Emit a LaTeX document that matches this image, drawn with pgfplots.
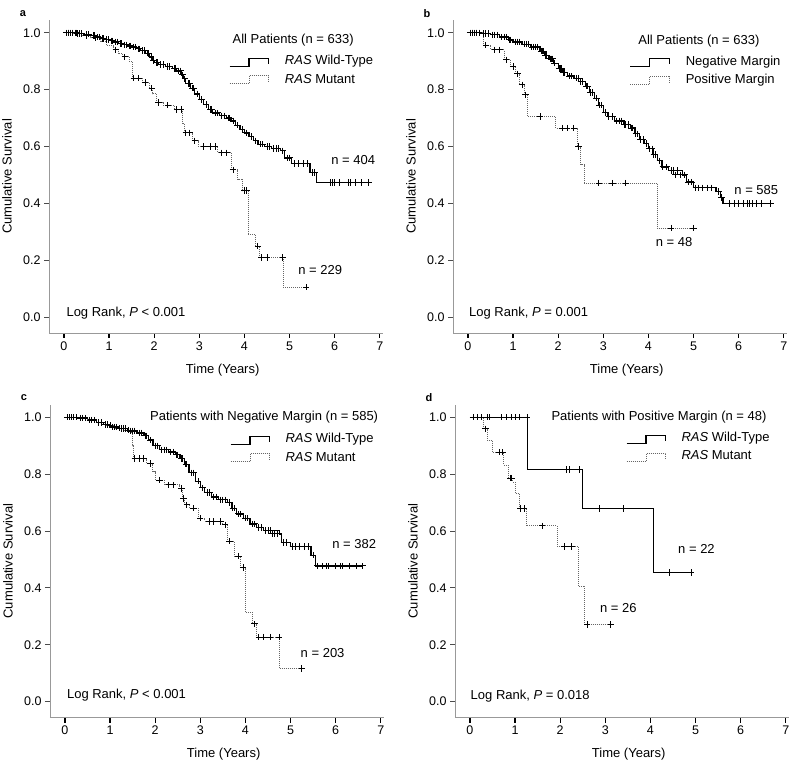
\documentclass[border=0pt]{standalone}
\usepackage{fontspec}
\setmainfont{Liberation Sans}
\usepackage{pgfplots}
\pgfplotsset{compat=1.18}

\newcommand{\tf}{\fontsize{13}{15}\selectfont}
\pgfplotsset{
  km/.style={
    scale only axis, width=334pt, height=313pt,
    xmin=-0.33, xmax=7.07, ymin=-0.056, ymax=1.045,
    axis x line*=bottom, axis y line*=left,
    axis line style={draw=black!40, line width=0.9pt, -},
    xtick={0,1,...,7}, ytick={0,0.2,0.4,0.6,0.8,1.0},
    y tick label style={/pgf/number format/.cd, fixed, fixed zerofill, precision=1, /tikz/.cd},
    /pgf/number format/assume math mode=true,
    tick align=outside, major tick length=5pt,
    x tick style={draw=black, line width=1.3pt},
    y tick style={draw=black!70, line width=0.8pt},
    tick label style={font=\fontsize{12.5}{14}\selectfont},
    xlabel={Time (Years)}, ylabel={Cumulative Survival},
    every axis x label/.style={at={(axis description cs:0.52,-0.118)}, anchor=center, font=\tf},
    every axis y label/.style={at={(axis description cs:-0.126,0.5)}, rotate=90, anchor=center, font=\tf},
    clip=false,
  },
  wt/.style={black, line width=1.3pt, const plot, mark=none},
  mu/.style={black!60, densely dotted, line width=1pt, const plot, mark=none},
  cens/.style={only marks, mark=+, mark size=3.2pt, black, line width=1pt},
}
\newcommand{\panel}[1]{\node[font=\bfseries\fontsize{11}{13}\selectfont] at (axis description cs:-0.078,1.022) {#1};}
\newcommand{\samp}[2]{\draw[#1] #2 -- ++(19.5pt,0pt) -- ++(0pt,8pt) -- ++(19.5pt,0pt) -- ++(0pt,-6pt);}

\begin{document}
\begin{tikzpicture}
\useasboundingbox (0,0) rectangle (800pt,764pt);

% ---- a
\begin{axis}[km, at={(49pt,431pt)}, anchor=south west]
\addplot[wt] coordinates {(0,1) (0.3,0.998) (0.45,0.995) (0.6,0.99) (0.7,0.985) (0.8,0.98) (0.9,0.976) (1.0,0.972) (1.1,0.968) (1.2,0.963) (1.3,0.958) (1.4,0.954) (1.5,0.95) (1.6,0.944) (1.7,0.937) (1.8,0.928) (1.9,0.915) (1.95,0.903) (2.0,0.895) (2.1,0.888) (2.25,0.882) (2.4,0.875) (2.5,0.866) (2.6,0.852) (2.65,0.838) (2.7,0.822) (2.8,0.805) (2.9,0.785) (3.0,0.765) (3.1,0.748) (3.2,0.73) (3.3,0.718) (3.45,0.708) (3.6,0.7) (3.7,0.69) (3.8,0.675) (3.9,0.66) (4.0,0.648) (4.1,0.635) (4.2,0.62) (4.3,0.608) (4.45,0.6) (4.6,0.593) (4.8,0.585) (4.88,0.56) (5.05,0.54) (5.45,0.508) (5.6,0.474) (6.75,0.474)};
\addplot[cens] coordinates {(0.05,1) (0.1,1) (0.15,1) (0.2,1) (0.25,1) (0.35,0.998) (0.5,0.995) (0.65,0.99) (0.75,0.985) (0.85,0.98) (0.95,0.976) (1.05,0.972) (1.15,0.968) (1.25,0.963) (1.35,0.958) (1.45,0.954) (1.55,0.95) (1.65,0.944) (1.75,0.937) (1.85,0.928) (2.05,0.895) (2.15,0.888) (2.3,0.882) (2.45,0.875) (2.55,0.866) (2.75,0.822) (2.85,0.805) (3.05,0.765) (3.25,0.73) (3.4,0.718) (3.5,0.708) (3.65,0.7) (3.75,0.69) (3.85,0.675) (4.05,0.648) (4.25,0.62) (4.4,0.608) (4.5,0.6) (4.7,0.593) (4.85,0.585) (5.0,0.56) (5.2,0.54) (5.3,0.54) (5.4,0.54) (5.5,0.508) (5.9,0.474) (5.95,0.474) (6.1,0.474) (6.3,0.474) (6.35,0.474) (6.6,0.474) (6.75,0.474)
 (0.28,1) (0.4,0.998) (0.55,0.995) (0.68,0.99) (0.78,0.985) (0.88,0.98) (0.98,0.976) (1.08,0.972) (1.18,0.968) (1.28,0.963) (1.38,0.958) (1.48,0.954) (1.58,0.95) (1.68,0.944) (1.78,0.937) (1.88,0.928) (1.93,0.915) (1.98,0.903) (2.08,0.895) (2.2,0.888) (2.35,0.882) (2.48,0.875) (2.58,0.866) (2.63,0.852) (2.68,0.838) (2.78,0.822) (2.88,0.805) (2.95,0.785) (3.15,0.748) (3.28,0.73) (3.35,0.718) (3.55,0.708) (3.68,0.7) (3.95,0.66) (4.15,0.635) (4.35,0.608) (4.55,0.6) (4.65,0.593) (4.75,0.593) (4.95,0.56) (5.1,0.54) (5.55,0.508) (6.0,0.474) (6.45,0.474)};
\addplot[mu] coordinates {(0,1) (0.2,0.997) (0.4,0.99) (0.6,0.982) (0.8,0.97) (0.95,0.955) (1.1,0.94) (1.2,0.928) (1.3,0.915) (1.45,0.9) (1.52,0.84) (1.75,0.825) (1.9,0.805) (1.97,0.785) (2.05,0.755) (2.2,0.745) (2.45,0.73) (2.62,0.68) (2.68,0.648) (2.85,0.62) (2.98,0.6) (3.4,0.578) (3.72,0.518) (3.85,0.485) (3.95,0.445) (4.08,0.29) (4.25,0.25) (4.33,0.21) (4.86,0.105) (5.37,0.105)};
\addplot[cens] coordinates {(0.1,1) (0.3,0.997) (0.5,0.99) (0.7,0.982) (1.15,0.94) (1.35,0.915) (1.55,0.84) (1.65,0.84) (1.8,0.825) (1.95,0.805) (2.1,0.755) (2.3,0.745) (2.5,0.73) (2.6,0.73) (2.7,0.648) (2.78,0.648) (2.9,0.62) (3.1,0.6) (3.25,0.6) (3.35,0.6) (3.5,0.578) (3.6,0.578) (3.75,0.518) (4.0,0.445) (4.05,0.445) (4.3,0.25) (4.38,0.21) (4.5,0.21) (4.85,0.21) (5.37,0.105)};
\panel{a}
\node[font=\tf, anchor=west] at (axis cs:3.66,0.973) {All Patients (n = 633)};
\samp{black, line width=1.1pt}{(axis cs:3.67,0.882)}
\samp{black!60, densely dotted, line width=1pt}{(axis cs:3.67,0.821)}
\node[font=\tf, anchor=west] at (axis cs:4.82,0.9) {\textit{RAS} Wild-Type};
\node[font=\tf, anchor=west] at (axis cs:4.82,0.838) {\textit{RAS} Mutant};
\node[font=\tf] at (axis cs:6.41,0.552) {n = 404};
\node[font=\tf] at (axis cs:5.68,0.165) {n = 229};
\node[font=\tf, anchor=west] at (axis cs:-0.02,0.014) {Log Rank, \textit{P} < 0.001};
\end{axis}

% ---- b
\begin{axis}[km, at={(453pt,431pt)}, anchor=south west]
\addplot[wt] coordinates {(0,1) (0.3,0.998) (0.5,0.993) (0.7,0.985) (0.9,0.975) (1.0,0.968) (1.2,0.96) (1.4,0.95) (1.6,0.935) (1.7,0.92) (1.8,0.908) (1.9,0.893) (2.0,0.875) (2.1,0.86) (2.2,0.848) (2.35,0.84) (2.5,0.828) (2.6,0.812) (2.7,0.79) (2.8,0.77) (2.9,0.745) (3.0,0.72) (3.1,0.705) (3.25,0.69) (3.45,0.678) (3.6,0.665) (3.7,0.645) (3.8,0.625) (3.9,0.61) (4.0,0.592) (4.1,0.572) (4.2,0.55) (4.3,0.528) (4.45,0.515) (4.75,0.5) (4.85,0.475) (5.0,0.455) (5.5,0.442) (5.6,0.42) (5.65,0.4) (6.75,0.4)};
\addplot[cens] coordinates {(0.05,1) (0.1,1) (0.15,1) (0.2,1) (0.25,1) (0.4,0.998) (0.6,0.993) (0.8,0.985) (0.95,0.975) (1.1,0.968) (1.3,0.96) (1.45,0.95) (1.55,0.95) (1.65,0.935) (1.75,0.92) (1.85,0.908) (2.05,0.875) (2.15,0.86) (2.25,0.848) (2.4,0.84) (2.45,0.84) (2.55,0.828) (2.65,0.812) (2.75,0.79) (2.95,0.745) (3.05,0.72) (3.2,0.705) (3.35,0.69) (3.5,0.678) (3.55,0.678) (3.65,0.665) (3.75,0.645) (3.95,0.61) (4.15,0.572) (4.25,0.55) (4.5,0.515) (4.6,0.5) (4.7,0.5) (4.8,0.5) (4.95,0.475) (5.1,0.455) (5.3,0.455) (5.4,0.455) (5.9,0.4) (6.0,0.4) (6.1,0.4) (6.25,0.4) (6.3,0.4) (6.5,0.4) (6.7,0.4)
 (0.35,0.998) (0.45,0.998) (0.55,0.993) (0.65,0.993) (0.75,0.985) (0.85,0.985) (0.92,0.975) (1.05,0.968) (1.15,0.968) (1.25,0.96) (1.35,0.96) (1.42,0.95) (1.5,0.95) (1.62,0.935) (1.68,0.935) (1.72,0.92) (1.82,0.908) (1.88,0.908) (1.92,0.893) (2.02,0.875) (2.08,0.875) (2.12,0.86) (2.3,0.848) (2.5,0.828) (2.62,0.812) (2.72,0.79) (2.85,0.77) (2.92,0.745) (3.12,0.705) (3.3,0.69) (3.4,0.69) (3.47,0.678) (3.62,0.665) (3.72,0.645) (3.82,0.625) (3.88,0.625) (4.02,0.592) (4.08,0.592) (4.12,0.572) (4.32,0.528) (4.4,0.528) (4.55,0.515) (4.65,0.515) (4.88,0.475) (5.05,0.455) (5.2,0.455) (5.55,0.442) (5.62,0.42) (5.8,0.4) (6.2,0.4) (6.4,0.4)};
\addplot[mu] coordinates {(0,1) (0.35,0.957) (0.5,0.94) (0.8,0.905) (0.95,0.882) (1.05,0.856) (1.15,0.817) (1.25,0.782) (1.32,0.706) (1.95,0.665) (2.43,0.6) (2.5,0.536) (2.58,0.471) (4.19,0.313) (5.0,0.313)};
\addplot[cens] coordinates {(0.1,1) (0.2,1) (0.4,0.957) (0.6,0.94) (0.7,0.94) (0.85,0.905) (1.0,0.882) (1.1,0.856) (1.2,0.817) (1.28,0.782) (1.6,0.706) (2.1,0.665) (2.2,0.665) (2.35,0.665) (2.45,0.6) (2.9,0.471) (3.2,0.471) (3.5,0.471) (4.5,0.313) (5.0,0.313)};
\panel{b}
\node[font=\tf, anchor=west] at (axis cs:3.7,0.97) {All Patients (n = 633)};
\samp{black, line width=1.1pt}{(axis cs:3.6,0.882)}
\samp{black!60, densely dotted, line width=1pt}{(axis cs:3.6,0.817)}
\node[font=\tf, anchor=west] at (axis cs:4.75,0.896) {Negative Margin};
\node[font=\tf, anchor=west] at (axis cs:4.75,0.835) {Positive Margin};
\node[font=\tf] at (axis cs:6.39,0.447) {n = 585};
\node[font=\tf] at (axis cs:4.57,0.264) {n = 48};
\node[font=\tf, anchor=west] at (axis cs:-0.05,0.014) {Log Rank, \textit{P} = 0.001};
\end{axis}

% ---- c
\begin{axis}[km, at={(50pt,46.5pt)}, anchor=south west]
\addplot[wt] coordinates {(0,1) (0.3,0.997) (0.5,0.99) (0.7,0.982) (0.85,0.975) (1.0,0.966) (1.2,0.96) (1.4,0.952) (1.6,0.945) (1.75,0.935) (1.85,0.92) (1.95,0.9) (2.1,0.886) (2.3,0.878) (2.45,0.868) (2.55,0.855) (2.65,0.835) (2.75,0.805) (2.9,0.775) (3.0,0.752) (3.1,0.735) (3.25,0.72) (3.4,0.71) (3.6,0.7) (3.7,0.68) (3.8,0.66) (3.95,0.645) (4.1,0.625) (4.25,0.612) (4.4,0.602) (4.75,0.59) (4.8,0.56) (5.0,0.545) (5.45,0.515) (5.55,0.477) (6.6,0.477)};
\addplot[cens] coordinates {(0.05,1) (0.1,1) (0.2,1) (0.4,0.997) (0.6,0.99) (0.8,0.982) (0.9,0.975) (1.1,0.966) (1.3,0.96) (1.5,0.952) (1.7,0.945) (1.8,0.935) (2.0,0.9) (2.2,0.886) (2.4,0.878) (2.5,0.868) (2.6,0.855) (2.7,0.835) (2.8,0.805) (3.05,0.752) (3.2,0.735) (3.3,0.72) (3.5,0.71) (3.65,0.7) (3.75,0.68) (3.9,0.66) (4.0,0.645) (4.2,0.625) (4.35,0.612) (4.5,0.602) (4.6,0.59) (4.7,0.59) (4.9,0.56) (5.1,0.545) (5.2,0.545) (5.3,0.545) (5.4,0.545) (5.8,0.477) (5.85,0.477) (6.0,0.477) (6.1,0.477) (6.15,0.477) (6.45,0.477) (6.6,0.477)
 (0.15,1) (0.25,1) (0.35,0.997) (0.45,0.997) (0.55,0.99) (0.65,0.99) (0.75,0.982) (0.82,0.982) (0.95,0.975) (1.05,0.966) (1.15,0.966) (1.25,0.96) (1.35,0.96) (1.45,0.952) (1.55,0.952) (1.65,0.945) (1.78,0.935) (1.9,0.92) (2.05,0.9) (2.15,0.886) (2.25,0.886) (2.35,0.878) (2.47,0.868) (2.58,0.855) (2.68,0.835) (2.85,0.805) (2.95,0.775) (3.15,0.735) (3.35,0.72) (3.45,0.71) (3.55,0.71) (3.72,0.68) (3.85,0.66) (4.05,0.645) (4.15,0.625) (4.3,0.612) (4.45,0.602) (4.55,0.602) (4.65,0.59) (4.85,0.56) (5.05,0.545) (5.5,0.515) (5.6,0.477) (5.7,0.477) (6.3,0.477)};
\addplot[mu] coordinates {(0,1) (0.3,0.997) (0.5,0.99) (0.7,0.982) (0.9,0.972) (1.1,0.962) (1.3,0.955) (1.45,0.945) (1.5,0.9) (1.53,0.855) (1.8,0.837) (1.95,0.808) (2.0,0.779) (2.2,0.762) (2.55,0.75) (2.6,0.715) (2.65,0.692) (2.75,0.68) (2.95,0.645) (3.1,0.634) (3.5,0.622) (3.6,0.564) (3.75,0.512) (3.9,0.471) (4.0,0.314) (4.15,0.273) (4.25,0.227) (4.75,0.116) (5.25,0.116)};
\addplot[cens] coordinates {(0.15,1) (0.4,0.997) (0.6,0.99) (0.8,0.982) (1.0,0.972) (1.2,0.962) (1.4,0.955) (1.55,0.855) (1.65,0.855) (1.75,0.855) (1.9,0.837) (2.1,0.779) (2.3,0.762) (2.4,0.762) (2.58,0.75) (2.63,0.715) (2.7,0.692) (2.85,0.68) (3.0,0.645) (3.2,0.634) (3.3,0.634) (3.45,0.634) (3.55,0.622) (3.65,0.564) (3.85,0.512) (3.95,0.471) (4.2,0.273) (4.3,0.227) (4.4,0.227) (4.55,0.227) (4.75,0.227) (5.25,0.116)};
\panel{c}
\node[font=\tf, anchor=west] at (axis cs:1.81,1.0) {Patients with Negative Margin (n = 585)};
\samp{black, line width=1.1pt}{(axis cs:3.67,0.905)}
\samp{black!60, densely dotted, line width=1pt}{(axis cs:3.67,0.843)}
\node[font=\tf, anchor=west] at (axis cs:4.81,0.922) {\textit{RAS} Wild-Type};
\node[font=\tf, anchor=west] at (axis cs:4.81,0.86) {\textit{RAS} Mutant};
\node[font=\tf] at (axis cs:6.41,0.553) {n = 382};
\node[font=\tf] at (axis cs:5.71,0.17) {n = 203};
\node[font=\tf, anchor=west] at (axis cs:-0.03,0.023) {Log Rank, \textit{P} < 0.001};
\end{axis}

% ---- d
\begin{axis}[km, at={(455pt,46.5pt)}, anchor=south west]
\addplot[wt] coordinates {(0,1) (1.28,0.817) (2.5,0.679) (4.07,0.454) (4.9,0.454)};
\addplot[cens] coordinates {(0.07,1) (0.16,1) (0.26,1) (0.39,1) (0.43,1) (0.7,1) (0.81,1) (0.93,1) (1.02,1) (1.09,1) (1.27,1) (2.13,0.817) (2.2,0.817) (2.42,0.817) (2.87,0.679) (3.41,0.679) (4.43,0.454) (4.9,0.454)};
\addplot[mu] coordinates {(0,1) (0.3,0.959) (0.38,0.918) (0.5,0.877) (0.75,0.831) (0.85,0.786) (0.95,0.772) (1.0,0.732) (1.1,0.679) (1.25,0.618) (1.93,0.545) (2.4,0.405) (2.55,0.271) (3.12,0.271)};
\addplot[cens] coordinates {(0.35,0.959) (0.65,0.877) (0.72,0.877) (0.9,0.786) (0.92,0.786) (1.12,0.679) (1.2,0.679) (1.6,0.618) (2.1,0.545) (2.25,0.545) (2.6,0.271) (3.12,0.271)};
\panel{d}
\node[font=\tf, anchor=west] at (axis cs:1.73,1.0) {Patients with Positive Margin (n = 48)};
\samp{black, line width=1.1pt}{(axis cs:3.47,0.909)}
\samp{black!60, densely dotted, line width=1pt}{(axis cs:3.47,0.846)}
\node[font=\tf, anchor=west] at (axis cs:4.61,0.926) {\textit{RAS} Wild-Type};
\node[font=\tf, anchor=west] at (axis cs:4.61,0.866) {\textit{RAS} Mutant};
\node[font=\tf] at (axis cs:5.02,0.538) {n = 22};
\node[font=\tf] at (axis cs:3.29,0.328) {n = 26};
\node[font=\tf, anchor=west] at (axis cs:-0.06,0.02) {Log Rank, \textit{P} = 0.018};
\end{axis}
\end{tikzpicture}
\end{document}
